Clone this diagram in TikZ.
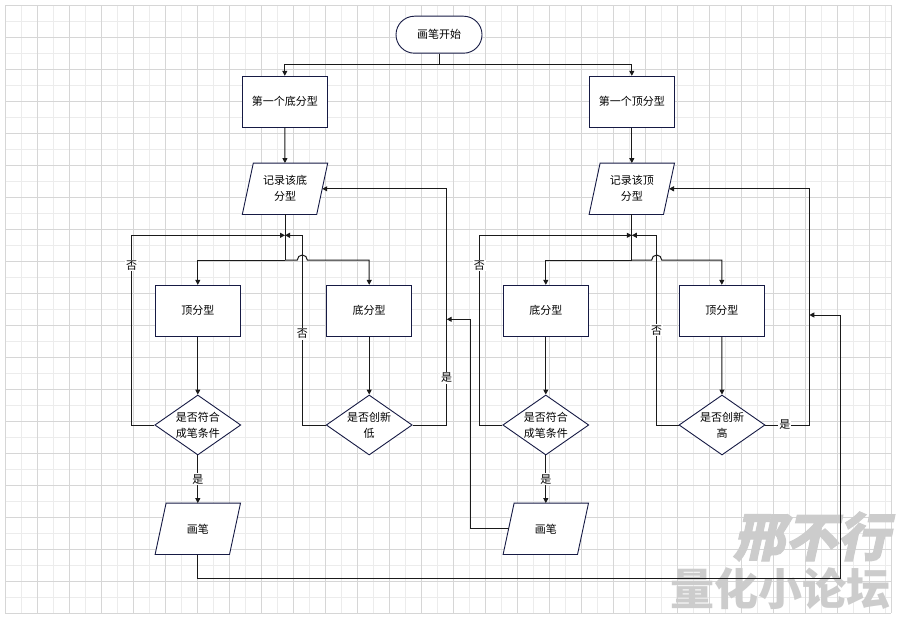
\documentclass[tikz,border=0pt]{standalone}
\usepackage{fontspec}
\setmainfont{Noto Sans CJK SC}
\newfontfamily\wmfont{Noto Sans CJK SC}
\newfontfamily\wmfontit{Noto Sans CJK SC}[FakeSlant=0.22,BoldFeatures={FakeSlant=0.22,FakeBold=2}]
\usetikzlibrary{arrows.meta,shapes.geometric}
\definecolor{flowline}{RGB}{26,26,26}
\definecolor{flownode}{RGB}{22,26,68}
\definecolor{gridminor}{RGB}{236,236,236}
\definecolor{gridmajor}{RGB}{214,214,214}
\definecolor{wmgray}{RGB}{204,204,204}
\pgfdeclarelayer{gridlayer}
\pgfdeclarelayer{shapelayer}
\pgfsetlayers{gridlayer,shapelayer,main}

\begin{document}
\begin{tikzpicture}[x=1pt,y=-1pt,
    every node/.style={font=\fontsize{11}{16}\selectfont},
    termbox/.style={draw=flownode,fill=white,line width=0.9pt,rounded corners=18.5pt,
      minimum width=86pt,minimum height=37pt},
    procbox/.style={draw=flownode,fill=white,line width=0.9pt,minimum width=85pt,minimum height=51pt},
    iobox/.style={minimum width=85pt,minimum height=51pt,inner sep=0pt,align=center},
    ioline/.style={draw=flownode,fill=white,line width=0.9pt},
    decbox/.style={diamond,aspect=1.43,draw=flownode,fill=white,line width=0.9pt,
      minimum width=86pt,minimum height=60pt,inner sep=0pt,align=center},
    link/.style={draw=flowline,line width=1pt},
    arr/.style={link,-{Triangle[length=5pt,width=5pt]}},
    lbl/.style={fill=white,inner sep=1pt},
    gridln/.style={line width=0.8pt}]
  \useasboundingbox (0,0) rectangle (901,620);
  % grid
  \begin{pgfonlayer}{gridlayer}
    \fill[white] (0,0) rectangle (901,620);
    \foreach \k in {0,...,27} \draw[gridln,gridminor] ({21.3+32*\k},5.3) -- ({21.3+32*\k},613.3);
    \foreach \k in {0,...,18} \draw[gridln,gridminor] (5.3,{21.3+32*\k}) -- (891,{21.3+32*\k});
    \foreach \k in {0,...,27} \draw[gridln,gridmajor] ({5.3+32*\k},5.3) -- ({5.3+32*\k},613.3);
    \foreach \k in {0,...,19} \draw[gridln,gridmajor] (5.3,{5.3+32*\k}) -- (891,{5.3+32*\k});
    \draw[gridln,gridmajor] (891,5.3) -- (891,613.3);
    % watermark
    \node[text=wmgray,font=\wmfontit\bfseries\fontsize{52}{52}\selectfont] (wmname) at (811,536.5) {邢不行};
    \node[text=wmgray,font=\wmfont\bfseries\fontsize{44}{44}\selectfont] (wmsite) at (780,589) {量化小论坛};
  \end{pgfonlayer}

  % nodes
  \node[termbox] (start) at (439,34.7) {画笔开始};
  \node[procbox] (firstlow) at (284.8,101.8) {第一个底分型};
  \node[procbox] (firsthigh) at (631.8,101.8) {第一个顶分型};
  \node[iobox] (reclow) at (285,188.8) {记录该底\\分型};
  \node[iobox] (rechigh) at (631.8,188.8) {记录该顶\\分型};

  \node[procbox] (topA) at (197.8,310.8) {顶分型};
  \node[procbox] (botA) at (369.2,310.8) {底分型};
  \node[decbox] (strokeA) at (197.8,425) {是否符合\\成笔条件};
  \node[decbox] (newlow) at (369.2,425) {是否创新\\低};
  \node[iobox] (penA) at (197.8,528.8) {画笔};

  \node[procbox] (botB) at (545.8,310.8) {底分型};
  \node[procbox] (topB) at (721.8,310.8) {顶分型};
  \node[decbox] (strokeB) at (545.8,425) {是否符合\\成笔条件};
  \node[decbox] (newhigh) at (722,425) {是否创新\\高};
  \node[iobox] (penB) at (545.8,528.8) {画笔};

  % slanted outlines for the io boxes
  \begin{pgfonlayer}{shapelayer}
    \foreach \n in {reclow,rechigh,penA,penB}
      \draw[ioline] ([xshift=11pt]\n.north west) -- (\n.north east)
        -- ([xshift=-11pt]\n.south east) -- (\n.south west) -- cycle;
  \end{pgfonlayer}

  % bends
  \coordinate (split) at (439,64.3);
  \coordinate (mergeL) at (285,235.3);
  \coordinate (forkL) at (285,260);
  \coordinate (hopL) at (297.3,260);
  \coordinate (loopA) at (131.7,235.3);
  \coordinate (loopB) at (302.3,235.3);
  \coordinate (backL) at (446.7,188.8);
  \coordinate (joinL) at (446.7,319.3);
  \coordinate (turnL) at (470.7,319.3);
  \coordinate (mergeR) at (631.8,235.3);
  \coordinate (forkR) at (631.8,260);
  \coordinate (hopR) at (651.7,260);
  \coordinate (loopC) at (479.3,235.3);
  \coordinate (loopD) at (656.7,235.3);
  \coordinate (backR) at (809.3,188.8);
  \coordinate (joinR) at (809.3,315);
  \coordinate (turnR) at (840,315);
  \coordinate (baseR) at (840,578.3);

  % connectors
  \draw[link] (start) -- (split);
  \draw[arr] (split) -| (firstlow);
  \draw[arr] (split) -| (firsthigh);
  \draw[arr] (firstlow) -- (reclow);
  \draw[arr] (firsthigh) -- (rechigh);

  % bottom side
  \draw[link] (reclow) -- (forkL);
  \draw[arr] (forkL) -| (topA);
  \draw[arr] (forkL) -- (hopL) arc[start angle=180,end angle=0,radius=5pt] -| (botA);
  \draw[arr] (topA) -- (strokeA);
  \draw[arr] (botA) -- (newlow);
  \draw[arr] (strokeA) -- node[lbl]{是} (penA);
  \draw[arr] (strokeA.west) -| node[lbl,pos=0.92]{否} (loopA) -- (mergeL);
  \draw[arr] (newlow.west) -| node[lbl,pos=0.74]{否} (loopB) -- (mergeL);
  \draw[arr] (newlow.east) -| node[lbl,pos=0.6]{是} (backL) -- ([xshift=-5.5pt]reclow.east);
  \draw[arr] (penA) |- (baseR) -- (turnR) -- (joinR);

  % top side
  \draw[link] (rechigh) -- (forkR);
  \draw[arr] (forkR) -| (botB);
  \draw[arr] (forkR) -- (hopR) arc[start angle=180,end angle=0,radius=5pt] -| (topB);
  \draw[arr] (botB) -- (strokeB);
  \draw[arr] (topB) -- (newhigh);
  \draw[arr] (strokeB) -- node[lbl]{是} (penB);
  \draw[arr] (strokeB.west) -| node[lbl,pos=0.92]{否} (loopC) -- (mergeR);
  \draw[arr] (newhigh.west) -| node[lbl,pos=0.75]{否} (loopD) -- (mergeR);
  \draw[arr] (newhigh.east) -| node[lbl,pos=0.22]{是} (backR) -- ([xshift=-5.5pt]rechigh.east);
  \draw[link] ([xshift=5.5pt]penB.west) -| (turnL);
  \draw[arr] (turnL) -- (joinL);
\end{tikzpicture}
\end{document}
